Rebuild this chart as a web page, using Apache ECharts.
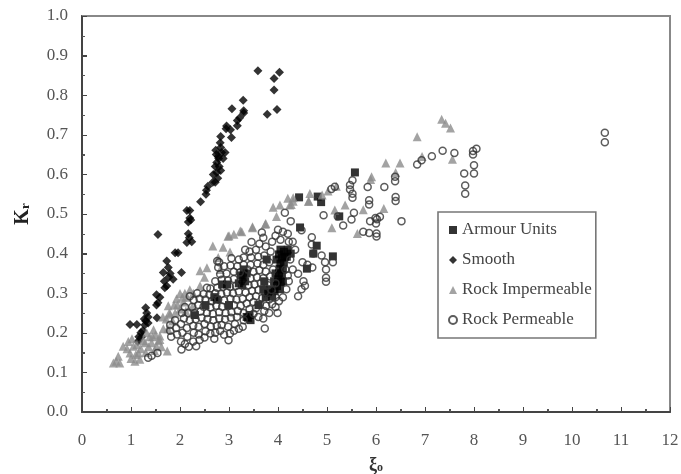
<!DOCTYPE html>
<html><head><meta charset="utf-8">
<style>html,body{margin:0;padding:0;background:#fff}#c{width:681px;height:474px;filter:blur(0.4px)}</style>
<script src="https://cdn.jsdelivr.net/npm/echarts@6/dist/echarts.min.js"></script>
</head><body><div id="c"></div>
<script>
const xTicks=[0,1,2,3,4,5,6,7,8,9,10,11,12];
const seriesNames=["Armour Units","Smooth","Rock Impermeable","Rock Permeable"];
const armourUnits=[[5.57,.605],[4.43,.542],[4.81,.544],[4.88,.53],[5.25,.494],[4.45,.466],[4.79,.42],[5.12,.393],[4.72,.4],[4.59,.362],
[4.05,.41],[4.12,.405],[4.2,.41],[4.26,.4],[4.18,.392],[4.08,.39],[4.02,.398],[3.97,.385],[4.05,.375],[4.12,.378],[4.03,.362],[4.1,.36],[4.02,.35],[4.08,.345],[4,.335],[4.06,.328],[3.98,.318],[4.04,.31],[3.93,.305],[3.88,.292],[3.8,.3],[3.77,.385],[3.95,.35],[3.92,.33],[3.85,.31],[4.14,.392],[4.1,.33],
[3.29,.34],[3.33,.33],[3.27,.32],[3.36,.35],[3.2,.325],[3.3,.36],[3.24,.345],[3.39,.238],[3.44,.232],[3.42,.245],[3.36,.24],[2.75,.284],[2.96,.322],[2.86,.322],[2.52,.27],[2.3,.245],[3.7,.31],[3.6,.27],[3,.27],[3.75,.29],[3.72,.33],[2.7,.29]];
const smooth=[[3.59,.862],[4.03,.858],[3.92,.842],[3.92,.813],[3.98,.764],[3.78,.752],[3.29,.787],[3.06,.766],[3.3,.761],[3.3,.755],[3.22,.743],[3.17,.736],[3.17,.723],[2.95,.722],[2.94,.715],[3.03,.713],[3.05,.693],[2.83,.696],[2.82,.68],[2.83,.668],[2.73,.661],[2.85,.655],[2.92,.655],[2.78,.645],[2.75,.63],[2.72,.62],[2.83,.61],[2.75,.605],[2.77,.59],[2.72,.58],[2.67,.58],[2.57,.57],[2.54,.56],[2.53,.55],[2.42,.531],[2.14,.509],[2.2,.509],[2.2,.49],[2.22,.485],[2.17,.48],[1.55,.448],[2.17,.45],[2.19,.44],[2.14,.428],[2.24,.43],[1.96,.402],[1.9,.402],[1.73,.381],[1.76,.365],[1.66,.352],[2.03,.352],[1.8,.35],[1.86,.335],[1.69,.314],[1.73,.318],[1.52,.296],[1.59,.29],[1.55,.276],[1.52,.27],[1.3,.263],[1.32,.25],[1.35,.24],[1.53,.238],[1.28,.22],[.98,.221],[1.12,.221],[1.35,.225],[1.2,.2],[1.16,.19],[1.14,.178],[1.24,.205],[1.27,.235],[2.79,.64],[2.74,.65],[2.8,.62],[2.68,.6],[2.88,.64],[1.3,.23],[1.22,.19],[1.68,.33],[1.77,.34]];
const rockImpermeable=[[7.34,.739],[7.42,.729],[7.52,.717],[6.84,.695],[6.2,.629],[6.49,.629],[7.56,.638],[6.94,.645],[6.4,.605],[5.91,.594],[5.89,.587],[5.37,.523],[5.16,.51],[6.16,.514],[5.74,.511],[5.1,.465],[5.62,.451],[5.19,.57],[5.02,.558],[4.65,.552],[4.63,.532],[4.31,.541],[4.2,.54],[4.27,.524],[4.9,.548],[4.24,.523],[4.62,.532],[4.04,.523],[3.9,.517],[3.97,.494],[3.74,.474],[3.48,.468],[3.23,.457],[3.1,.449],[3,.445],[2.67,.419],[2.88,.416],[2.98,.444],[3.26,.455],[3.48,.465],[3.75,.476],[4.31,.532],[2.41,.357],[2.55,.364],[3.02,.404],[2.2,.309],[2.41,.319],[2,.299],[1.93,.286],[1.76,.268],[2.07,.278],[2.27,.3],[1.8,.247],[1.9,.25],[1.59,.183],[1.74,.154],[.7,.128],[.64,.124],[.77,.124],[.74,.141],[.84,.166],[.945,.178],[1.05,.166],[.98,.149],[1.15,.149],[1.08,.128],[1.18,.133],[1.32,.2],[1.46,.208],[1.59,.192],[1.29,.175],[1.42,.175],[1.52,.166],[1.38,.19],[1.5,.195],[1.2,.16],[1.3,.15],[1.1,.145],[.92,.16],[1,.135],[1.62,.165],[2,.26],[2.12,.255],[1.95,.27],[2.25,.265],[2.15,.29],[1.85,.23],[1.72,.235],[2.78,.39],[2.82,.36],[2.5,.34],[1.25,.18],[1.36,.165],[1.44,.19],[1.56,.18],[1.48,.155],[1.12,.17],[1.02,.185],[1.66,.21],[1.75,.21],[1.65,.24],[2.05,.29],[2.1,.3],[1.88,.27],[1.78,.25]];
const rockPermeable=[[10.67,.705],[10.67,.681],[8.05,.665],[7.98,.659],[7.98,.65],[8,.623],[8,.602],[7.8,.602],[7.82,.572],[7.82,.551],[7.6,.654],[7.36,.66],[7.14,.646],[6.93,.636],[6.84,.625],[6.39,.594],[6.39,.583],[6.4,.543],[6.4,.533],[6.17,.568],[5.83,.568],[6.52,.482],[5.86,.535],[5.86,.524],[5.52,.585],[5.47,.573],[5.47,.562],[5.52,.551],[5.52,.541],[5.16,.569],[5.09,.563],[5.55,.503],[5.5,.486],[5.33,.471],[4.93,.497],[5.22,.494],[6.08,.493],[5.99,.49],[5.88,.482],[6,.476],[6.02,.487],[5.74,.455],[5.86,.452],[6.01,.451],[6.01,.443],
[4.14,.503],[4.26,.482],[4.48,.459],[4.69,.441],[4.69,.423],[4.72,.4],[4.89,.395],[4.96,.378],[5.12,.378],[4.98,.36],[4.98,.339],[4.98,.329],[4.7,.365],[4.5,.378],[4.6,.372],[4.41,.349],[4.52,.33],[4.55,.319],[4.48,.31],[4.41,.292],
[1.35,.137],[1.42,.142],[1.54,.149],[2.03,.158],[2.33,.166],[2.99,.181],[3.73,.211],[3.99,.25],[2.1,.172],[2.27,.178],[2.02,.178],[2.18,.165],[2.4,.182],[1.82,.19],[1.94,.196],[1.8,.205],[1.8,.22],[1.92,.212],[2.05,.2],[2.15,.19],[2.28,.2],[2.38,.196],[2.5,.188],[2.52,.204],[2.62,.198],[2.72,.2],[2.7,.185],[2.82,.205],[2.9,.195],[3.02,.198],[3.1,.205],[3.2,.21],[3.28,.215],[3.12,.222],[2.98,.215],[2.85,.22],[2.75,.218],[2.63,.216],[2.5,.222],[2.38,.215],[2.27,.218],[2.14,.212],[2.02,.222],[1.9,.232],[2.08,.236],[2.2,.232],[2.32,.234],[2.44,.238],[2.56,.235],[2.68,.232],[2.8,.236],[2.92,.234],[3.04,.238],[3.16,.24],[3.3,.232],[3.5,.248],[3.6,.24],[3.7,.236],[3.82,.25],[3.95,.265],[3.72,.255],[3.55,.262],[3.42,.26],[3.3,.25],[3.18,.255],[3.05,.252],[2.93,.25],[2.8,.252],[2.67,.248],[2.55,.25],[2.42,.254],[2.3,.25],[2.16,.25],[2.04,.25],[2.1,.265],[2.25,.266],[2.37,.27],[2.48,.266],[2.62,.264],[2.74,.268],[2.86,.266],[2.98,.268],[3.1,.27],[3.24,.268],[3.36,.274],[3.5,.278],[3.63,.272],[3.76,.268],[3.88,.272],[4.02,.28],[4.1,.29],[3.95,.29],[3.82,.284],[3.68,.288],[3.55,.292],[3.42,.29],[3.28,.286],[3.15,.284],[3.03,.286],[2.9,.282],[2.78,.284],[2.65,.28],[2.52,.284],[2.4,.286],[2.28,.282],[2.2,.292],[2.35,.3],[2.48,.298],[2.6,.296],[2.72,.3],[2.84,.298],[2.96,.302],[3.08,.3],[3.2,.304],[3.34,.302],[3.47,.306],[3.6,.308],[3.73,.302],[3.87,.308],[4.17,.31],[4.22,.33],[3.95,.325],[3.8,.32],[3.65,.325],[3.52,.322],[3.4,.32],[3.14,.318],[3.02,.316],[2.88,.316],[2.76,.314],[2.62,.312],[2.55,.314],[2.72,.33],[2.85,.334],[2.98,.332],[3.1,.336],[3.44,.338],[3.57,.34],[3.7,.338],[3.84,.342],[3.9,.36],[3.75,.355],[3.62,.358],[3.5,.354],[3.38,.36],[3.22,.352],[3.1,.354],[2.95,.35],[2.82,.348],[2.78,.365],[2.9,.368],[3.03,.37],[3.17,.368],[3.3,.372],[3.44,.372],[3.58,.375],[3.7,.372],[3.82,.378],[2.76,.381],[2.8,.378],[3.05,.388],[3.2,.385],[3.33,.41],[3.3,.39],[3.45,.39],[3.46,.429],[3.6,.392],[3.72,.395],[3.55,.41],[3.67,.453],[3.62,.425],[3.75,.418],[3.85,.405],[3.7,.44],[3.88,.43],[3.95,.445],[4,.46],[4.1,.455],[4.2,.45],[4.3,.43],[4.35,.41],[4.22,.43],[4.05,.435],[4.25,.385],[4.3,.36],[4.15,.36],[4.2,.345],[3.42,.405]];
const mk=(i,sym,size,style)=>({name:seriesNames[i],type:"scatter",symbol:sym,symbolSize:size,itemStyle:style,
 data:[armourUnits,smooth,rockImpermeable,rockPermeable][i],z:2+i,silent:true});
const serif='"Liberation Serif","Times New Roman",serif';
const axisBase={z:10,axisLine:{show:true,lineStyle:{color:"#444",width:2}},
 axisTick:{show:true,inside:true,length:5,lineStyle:{color:"#444",width:1}},
 minorTick:{show:true,splitNumber:2,length:3,lineStyle:{color:"#555",width:1}},
 splitLine:{show:false},
 axisLabel:{color:"#555",fontFamily:serif,fontSize:17}};
const chart=echarts.init(document.getElementById("c"));
chart.setOption({animation:false,
 grid:{z:10,left:82,top:16,width:588,height:396,show:true,borderColor:"#888",borderWidth:2,outerBoundsMode:"none"},
 xAxis:{...axisBase,type:"value",min:0,max:12,interval:1,
  axisLabel:{...axisBase.axisLabel,margin:20,formatter:v=>String(xTicks[v])},
  name:"{a|ξ}{b|o}",nameLocation:"middle",nameGap:44,
  nameTextStyle:{rich:{a:{fontFamily:serif,fontSize:18,fontWeight:"bold",color:"#333"},b:{fontFamily:serif,fontSize:12,fontWeight:"bold",color:"#333",padding:[6,0,0,0]}}}},
 yAxis:{...axisBase,type:"value",min:0,max:1,interval:.1,
  axisLabel:{...axisBase.axisLabel,margin:14,formatter:v=>v.toFixed(1)},
  name:"{a|K}{b|r}",nameLocation:"middle",nameGap:49,
  nameTextStyle:{rich:{a:{fontFamily:serif,fontSize:20,fontWeight:"bold",color:"#222"},b:{fontFamily:serif,fontSize:13,fontWeight:"bold",color:"#222",padding:[6,0,0,0]}}}},
 legend:{show:true,z:20,orient:"vertical",left:438,top:212,padding:[9,4,9,10],
  borderColor:"#777",borderWidth:1.6,backgroundColor:"#fff",itemWidth:8,itemHeight:8,itemGap:12,
  data:seriesNames,textStyle:{color:"#444",fontFamily:serif,fontSize:17,lineHeight:18}},
 series:[
  mk(0,"rect",8,{color:"#000"}),
  mk(1,"diamond",9,{color:"#000"}),
  mk(2,"triangle",9,{color:"#8c8c8c"}),
  mk(3,"circle",7,{color:"rgba(255,255,255,0)",borderColor:"#333",borderWidth:1.5})
 ]});
// Frame and ticks placed through the chart's own scales, so they stay visible above the marks.
const px=(x,y)=>chart.convertToPixel({gridIndex:0},[x,y]);
const seg=(a,b,color,w)=>({type:"line",silent:true,z:15,shape:{x1:a[0],y1:a[1],x2:b[0],y2:b[1]},style:{stroke:color,lineWidth:w}});
const els=[];
const o=px(0,0),tr=px(12,1);
els.push(seg([o[0],tr[1]],tr,"#888",2),seg(tr,[tr[0],o[1]],"#888",2),seg(o,[o[0],tr[1]],"#444",2),seg(o,[tr[0],o[1]],"#444",2));
xTicks.forEach(v=>{const p=px(v,0);els.push(seg([Math.round(p[0])+.5,p[1]],[Math.round(p[0])+.5,p[1]-5],"#444",1));
 if(v<12){const q=px(v+.5,0);els.push(seg([Math.round(q[0])+.5,q[1]],[Math.round(q[0])+.5,q[1]-3],"#555",1));}});
[0,1,2,3,4,5,6,7,8,9,10].forEach(k=>{const p=px(0,k/10);const y=Math.round(p[1])+.5;els.push(seg([p[0],y],[p[0]+5,y],"#444",1));
 if(k<10){const q=px(0,k/10+.05);const yq=Math.round(q[1])+.5;els.push(seg([q[0],yq],[q[0]+3,yq],"#555",1));}});
chart.setOption({graphic:{elements:els}});
</script></body></html>
